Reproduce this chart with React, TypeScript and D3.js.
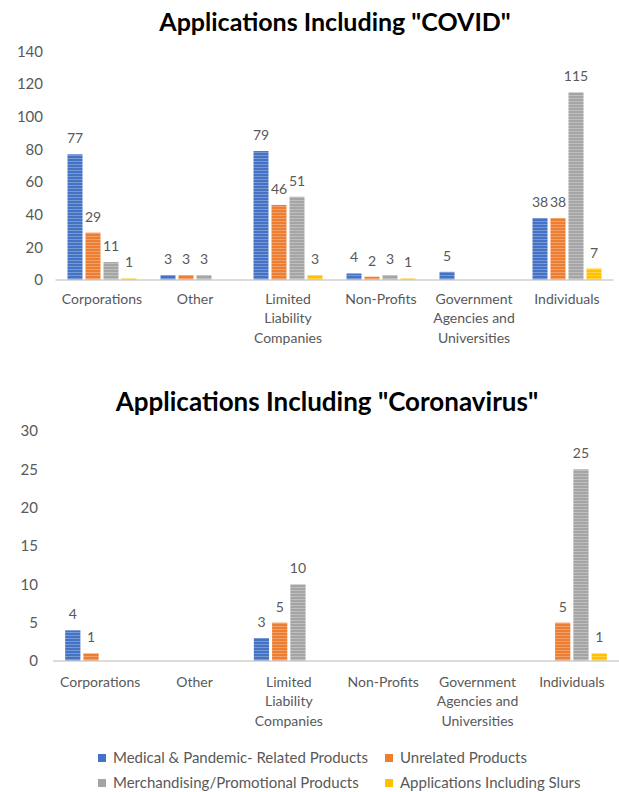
import React from "react";
import * as d3 from "d3";

const categoryLines: string[][] = [
  ["Corporations"],
  ["Other"],
  ["Limited", "Liability", "Companies"],
  ["Non-Profits"],
  ["Government", "Agencies and", "Universities"],
  ["Individuals"],
];
const categories = categoryLines.map((l) => l.join(" "));

const seriesNames = [
  "Medical & Pandemic- Related Products",
  "Unrelated Products",
  "Merchandising/Promotional Products",
  "Applications Including Slurs",
];
const seriesColors = ["#4472C4", "#ED7D31", "#A5A5A5", "#FFC000"];

const covidMedical = [77, 3, 79, 4, 5, 38];
const covidUnrelated = [29, 3, 46, 2, 0, 38];
const covidMerch = [11, 3, 51, 3, 0, 115];
const covidSlurs = [1, 0, 3, 1, 0, 7];

const coronaMedical = [4, 0, 3, 0, 0, 0];
const coronaUnrelated = [1, 0, 5, 0, 0, 5];
const coronaMerch = [0, 0, 10, 0, 0, 25];
const coronaSlurs = [0, 0, 0, 0, 0, 1];

const covidTicks = [0, 20, 40, 60, 80, 100, 120, 140];
const coronaTicks = [0, 5, 10, 15, 20, 25, 30];

const FONT = "Lato, 'Open Sans', sans-serif";
const GRAY = "#595959";

type ChartProps = {
  title: string;
  titleX: number;
  titleY: number;
  titleSize: number;
  values: number[][];
  ticks: number[];
  y0: number;
  y1: number;
  left: number;
  right: number;
  tickX: number;
  labelY: number;
};

function Chart({ title, titleX, titleY, titleSize, values, ticks, y0, y1, left, right, tickX, labelY }: ChartProps) {
  const y = d3.scaleLinear().domain([0, ticks[ticks.length - 1]]).range([y0, y1]);
  const x0 = d3.scaleBand<string>().domain(categories).range([left, right]).paddingInner(0).paddingOuter(0);
  const x1 = d3
    .scaleBand<number>()
    .domain(d3.range(seriesNames.length))
    .range([0, x0.bandwidth()])
    .paddingInner(1 / 6)
    .paddingOuter(2 / 3);
  return (
    <g>
      <text x={titleX} y={titleY} textAnchor="middle" fontFamily={FONT} fontWeight={700} fontSize={titleSize} fill="#000">
        {title}
      </text>
      {ticks.map((t) => (
        <text key={t} x={tickX} y={y(t)} dy="0.35em" textAnchor="end" fontFamily={FONT} fontSize={15} fill={GRAY}>
          {t}
        </text>
      ))}
      {categories.map((c, ci) => (
        <g key={c}>
          {values.map((vals, si) => {
            const v = vals[ci];
            if (!v) return null;
            const bx = (x0(c) as number) + (x1(si) as number);
            const bw = x1.bandwidth();
            return (
              <g key={si}>
                <rect x={bx} y={y(v)} width={bw} height={y(0) - y(v)} fill={`url(#pat${si})`} />
                <text
                  x={bx + bw / 2}
                  y={y(v) - 11}
                  textAnchor="middle"
                  fontFamily={FONT}
                  fontSize={14}
                  fill={GRAY}
                >
                  {v}
                </text>
              </g>
            );
          })}
          {categoryLines[ci].map((line, li) => (
            <text
              key={li}
              x={(x0(c) as number) + x0.bandwidth() / 2}
              y={labelY + li * 19.5}
              dy="0.35em"
              textAnchor="middle"
              fontFamily={FONT}
              fontSize={14}
              fill={GRAY}
            >
              {line}
            </text>
          ))}
        </g>
      ))}
      <line x1={left} x2={right} y1={y(0)} y2={y(0)} stroke="#D0D0D0" strokeWidth={1.5} />
    </g>
  );
}

export default function App() {
  const legendPos = [
    [98, 758],
    [385, 758],
    [98, 783],
    [385, 783],
  ];
  return (
    <svg width={619} height={792} style={{ position: "absolute", left: 0, top: 0, background: "#fff" }}>
      <defs>
        {seriesColors.map((col, i) => (
          <pattern key={i} id={`pat${i}`} patternUnits="userSpaceOnUse" width={4} height={3}>
            <rect width={4} height={3} fill={col} />
            <rect y={2} width={4} height={1} fill="#fff" opacity={0.28} />
          </pattern>
        ))}
      </defs>
      <rect width={619} height={792} fill="#fff" />
      <Chart
        title={'Applications Including "COVID"'}
        titleX={335}
        titleY={31}
        titleSize={25}
        values={[covidMedical, covidUnrelated, covidMerch, covidSlurs]}
        ticks={covidTicks}
        y0={280}
        y1={51.5}
        left={55.5}
        right={613.5}
        tickX={43}
        labelY={299}
      />
      <Chart
        title={'Applications Including "Coronavirus"'}
        titleX={327}
        titleY={411}
        titleSize={26}
        values={[coronaMedical, coronaUnrelated, coronaMerch, coronaSlurs]}
        ticks={coronaTicks}
        y0={661}
        y1={431}
        left={53}
        right={619}
        tickX={38}
        labelY={682}
      />
      {seriesNames.map((s, i) => (
        <g key={s}>
          <rect x={legendPos[i][0]} y={legendPos[i][1] - 4} width={8} height={8} fill={seriesColors[i]} />
          <text
            x={legendPos[i][0] + 15}
            y={legendPos[i][1]}
            dy="0.35em"
            fontFamily={FONT}
            fontSize={15}
            fill={GRAY}
          >
            {s}
          </text>
        </g>
      ))}
    </svg>
  );
}
